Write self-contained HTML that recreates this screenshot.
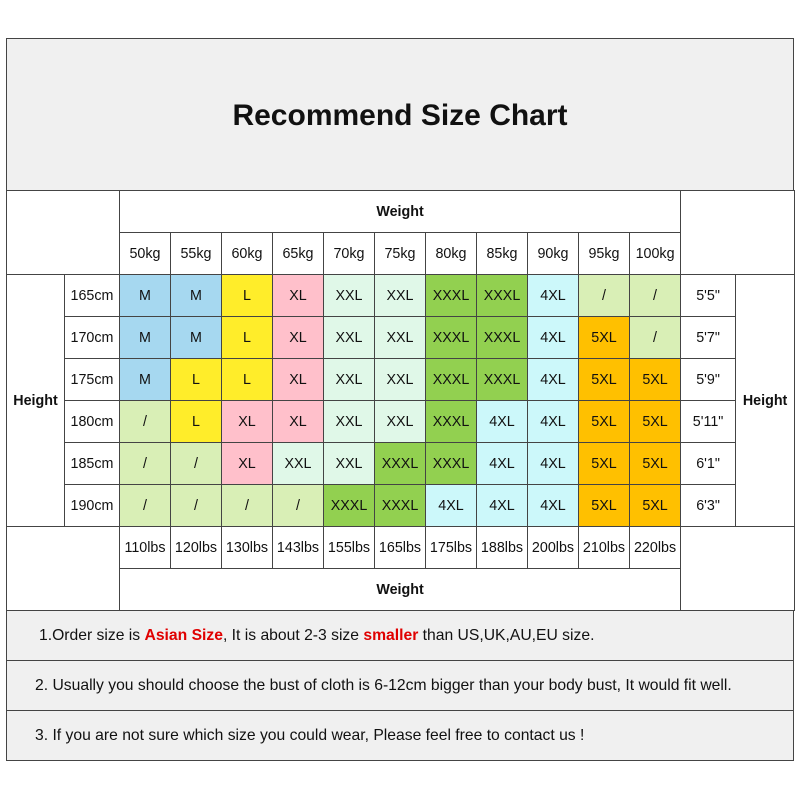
<!DOCTYPE html><html><head><style>
body{margin:0;background:#fff;font-family:"Liberation Sans",Arial,sans-serif;color:#111}
.box{position:absolute;left:6px;width:786px;border:1px solid #444;background:#f0f0f0;box-sizing:content-box}
table{position:absolute;left:6px;top:190px;border-collapse:collapse;table-layout:fixed;width:788px}
td{border:1px solid #444;height:41px;padding:0;text-align:center;font-size:14.3px;white-space:nowrap;overflow:hidden}
.b{font-weight:bold}
.M{background:#a6d8f0}.L{background:#ffed2a}.XL{background:#ffc0cb}.X2{background:#e0f8e8}.X3{background:#92d050}.X4{background:#ccf8fa}.S{background:#d9efb6}.X5{background:#ffc000}
.n{position:absolute;left:6px;width:786px;height:49px;border:1px solid #444;border-top:none;background:#f0f0f0;font-size:15.7px;line-height:49px}
</style></head><body>
<div class="box" style="top:38px;height:151px"><div style="text-align:center;font-size:30px;font-weight:bold;line-height:154px">Recommend Size Chart</div></div>
<table>
<colgroup><col style="width:58px"><col style="width:55px"><col span="11" style="width:51px"><col style="width:55px"><col style="width:59px"></colgroup>
<tr><td rowspan="2" colspan="2"></td><td colspan="11" class="b">Weight</td><td rowspan="2" colspan="2"></td></tr>
<tr><td>50kg</td><td>55kg</td><td>60kg</td><td>65kg</td><td>70kg</td><td>75kg</td><td>80kg</td><td>85kg</td><td>90kg</td><td>95kg</td><td>100kg</td></tr>
<tr><td rowspan="6" class="b">Height</td><td>165cm</td><td class="M">M</td><td class="M">M</td><td class="L">L</td><td class="XL">XL</td><td class="X2">XXL</td><td class="X2">XXL</td><td class="X3">XXXL</td><td class="X3">XXXL</td><td class="X4">4XL</td><td class="S">/</td><td class="S">/</td><td>5'5"</td><td rowspan="6" class="b">Height</td></tr>
<tr><td>170cm</td><td class="M">M</td><td class="M">M</td><td class="L">L</td><td class="XL">XL</td><td class="X2">XXL</td><td class="X2">XXL</td><td class="X3">XXXL</td><td class="X3">XXXL</td><td class="X4">4XL</td><td class="X5">5XL</td><td class="S">/</td><td>5'7"</td></tr>
<tr><td>175cm</td><td class="M">M</td><td class="L">L</td><td class="L">L</td><td class="XL">XL</td><td class="X2">XXL</td><td class="X2">XXL</td><td class="X3">XXXL</td><td class="X3">XXXL</td><td class="X4">4XL</td><td class="X5">5XL</td><td class="X5">5XL</td><td>5'9"</td></tr>
<tr><td>180cm</td><td class="S">/</td><td class="L">L</td><td class="XL">XL</td><td class="XL">XL</td><td class="X2">XXL</td><td class="X2">XXL</td><td class="X3">XXXL</td><td class="X4">4XL</td><td class="X4">4XL</td><td class="X5">5XL</td><td class="X5">5XL</td><td>5'11"</td></tr>
<tr><td>185cm</td><td class="S">/</td><td class="S">/</td><td class="XL">XL</td><td class="X2">XXL</td><td class="X2">XXL</td><td class="X3">XXXL</td><td class="X3">XXXL</td><td class="X4">4XL</td><td class="X4">4XL</td><td class="X5">5XL</td><td class="X5">5XL</td><td>6'1"</td></tr>
<tr><td>190cm</td><td class="S">/</td><td class="S">/</td><td class="S">/</td><td class="S">/</td><td class="X3">XXXL</td><td class="X3">XXXL</td><td class="X4">4XL</td><td class="X4">4XL</td><td class="X4">4XL</td><td class="X5">5XL</td><td class="X5">5XL</td><td>6'3"</td></tr>
<tr><td rowspan="2" colspan="2"></td><td>110lbs</td><td>120lbs</td><td>130lbs</td><td>143lbs</td><td>155lbs</td><td>165lbs</td><td>175lbs</td><td>188lbs</td><td>200lbs</td><td>210lbs</td><td>220lbs</td><td rowspan="2" colspan="2"></td></tr>
<tr><td colspan="11" class="b">Weight</td></tr>
</table>
<div class="n" style="top:611px"><span style="padding-left:32px">1.Order size is <b style="color:#e00000">Asian Size</b>, It is about 2-3 size <b style="color:#e00000">smaller</b> than US,UK,AU,EU size.</span></div>
<div class="n" style="top:661px"><span style="padding-left:28px">2. Usually you should choose the bust of cloth is 6-12cm bigger than your body bust, It would fit well.</span></div>
<div class="n" style="top:711px"><span style="padding-left:28px">3. If you are not sure which size you could wear, Please feel free to contact us !</span></div>
</body></html>
